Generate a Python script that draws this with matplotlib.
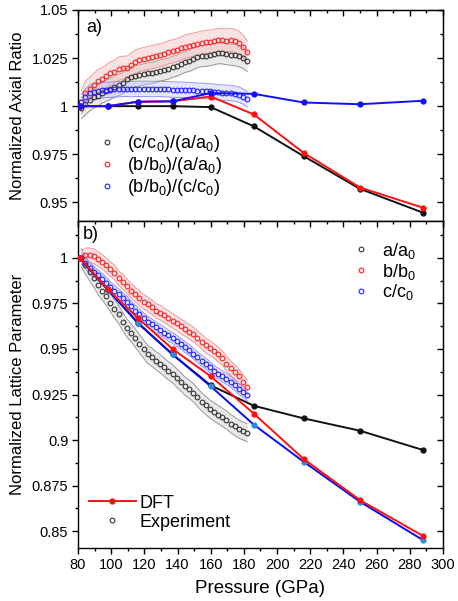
import matplotlib
matplotlib.use("Agg")
import matplotlib.pyplot as plt
import numpy as np
from matplotlib.ticker import MultipleLocator, FixedLocator
from matplotlib.lines import Line2D

plt.rcParams["font.family"] = ["Liberation Sans", "DejaVu Sans"]
plt.rcParams["mathtext.default"] = "regular"

# DFT points
dftP = [81, 98, 116, 137, 160, 186, 216, 250, 288]
dftCA = [1.0, 1.0, 1.0, 1.0, 0.9995, 0.9895, 0.974, 0.957, 0.9446]
dftBA = [1.0, 1.0, 1.0023, 1.0025, 1.005, 0.9957, 0.9757, 0.9577, 0.9472]
dftBC = [1.0, 1.0, 1.0023, 1.0025, 1.0068, 1.0064, 1.0019, 1.001, 1.0028]
dftA = [1.0, 0.9825, 0.9645, 0.947, 0.930, 0.9188, 0.9119, 0.9051, 0.8945]
dftB = [1.0, 0.9828, 0.967, 0.950, 0.935, 0.9145, 0.8896, 0.867, 0.8473]
dftC = [1.0, 0.9825, 0.9643, 0.947, 0.9295, 0.9084, 0.8881, 0.8661, 0.845]

# experiment
expP = [82, 84.5, 87, 89.5, 92, 94.5, 97, 99.5, 102, 104.5, 107, 109.5, 112, 114.5,
        117, 119.5, 122, 124.5, 127, 129.5, 132, 134.5, 137, 139.5, 142, 144.5, 147,
        149.5, 152, 154.5, 157, 159.5, 162, 164.5, 167, 169.5, 172, 174.5, 177, 179.5, 182]
expCA = [0.999, 1.001, 1.003, 1.0045, 1.0055, 1.007, 1.008, 1.009, 1.010, 1.011, 1.012,
         1.014, 1.015, 1.0155, 1.016, 1.0165, 1.017, 1.0172, 1.0178, 1.0185, 1.019, 1.0195,
         1.0205, 1.021, 1.022, 1.023, 1.0235, 1.0245, 1.0255, 1.026, 1.0262, 1.0265, 1.027,
         1.0275, 1.0275, 1.027, 1.0268, 1.0265, 1.026, 1.025, 1.0235]
expBA = [1.002, 1.007, 1.009, 1.011, 1.013, 1.014, 1.0155, 1.017, 1.018, 1.0195, 1.020,
         1.020, 1.0215, 1.023, 1.024, 1.0245, 1.025, 1.0255, 1.026, 1.0265, 1.027, 1.028,
         1.0285, 1.029, 1.030, 1.031, 1.0315, 1.032, 1.0325, 1.033, 1.0335, 1.0335, 1.034,
         1.0345, 1.0345, 1.034, 1.0345, 1.034, 1.033, 1.031, 1.028]
expBC = [1.002, 1.005, 1.007, 1.0075, 1.008, 1.0082, 1.0085, 1.0085, 1.0088, 1.0088, 1.009,
         1.009, 1.0088, 1.009, 1.009, 1.009, 1.009, 1.0088, 1.009, 1.009, 1.0088, 1.0088,
         1.0086, 1.0086, 1.0085, 1.0085, 1.0083, 1.0082, 1.008, 1.008, 1.0078, 1.0077, 1.0075,
         1.0072, 1.007, 1.007, 1.0068, 1.0065, 1.006, 1.005, 1.0035]
expA = [1.0, 0.996, 0.9925, 0.989, 0.985, 0.982, 0.979, 0.9755, 0.972, 0.969, 0.965, 0.9615,
        0.959, 0.956, 0.953, 0.950, 0.947, 0.9455, 0.9435, 0.942, 0.940, 0.938, 0.9365, 0.934,
        0.932, 0.9295, 0.928, 0.926, 0.9235, 0.921, 0.919, 0.917, 0.9155, 0.914, 0.9125, 0.911,
        0.909, 0.9075, 0.906, 0.905, 0.904]
expB = [1.0, 1.0015, 1.0015, 1.001, 0.9995, 0.998, 0.996, 0.994, 0.992, 0.989, 0.987, 0.9845,
        0.982, 0.980, 0.978, 0.976, 0.9745, 0.973, 0.971, 0.970, 0.9685, 0.967, 0.9655, 0.964,
        0.9625, 0.961, 0.9595, 0.958, 0.956, 0.954, 0.952, 0.9505, 0.949, 0.947, 0.945, 0.942,
        0.9395, 0.9375, 0.935, 0.932, 0.929]
expC = [1.0, 0.997, 0.9945, 0.9925, 0.9905, 0.9885, 0.9865, 0.984, 0.982, 0.980, 0.978, 0.976,
        0.9735, 0.971, 0.969, 0.967, 0.965, 0.9635, 0.962, 0.9605, 0.959, 0.9575, 0.956, 0.9545,
        0.953, 0.951, 0.9495, 0.9475, 0.9455, 0.9435, 0.942, 0.940, 0.938, 0.9365, 0.935, 0.9335,
        0.932, 0.930, 0.928, 0.9265, 0.9245]
# half widths of the shaded bands
errCA, errBA, errBC = 0.0055, 0.006, 0.004
errA, errB, errC = 0.005, 0.004, 0.003

topTicks = [0.95, 0.975, 1.0, 1.025, 1.05]
topTickLabels = ["0.95", "0.975", "1", "1.025", "1.05"]
botTicks = [0.85, 0.875, 0.9, 0.925, 0.95, 0.975, 1.0]
botTickLabels = ["0.85", "0.875", "0.9", "0.925", "0.95", "0.975", "1"]

fig = plt.figure(figsize=(4.58, 6.01), dpi=100)
ax1 = fig.add_axes([0.1703, 0.6323, 0.7969, 0.3511])
ax2 = fig.add_axes([0.1703, 0.0882, 0.7969, 0.5441])


def band(ax, p, v, err, face, edge):
    v = np.array(v)
    ax.fill_between(p, v - err, v + err, color=face, alpha=0.4, lw=0, zorder=1)
    ax.plot(p, v - err, color=edge, lw=0.6, zorder=1)
    ax.plot(p, v + err, color=edge, lw=0.6, zorder=1)


def circles(ax, p, v, col):
    ax.plot(p, v, ls="none", marker="o", ms=3.4, mfc="none", mec=col, mew=0.8, zorder=2)


def dft(ax, p, v, col, mcol=None):
    ax.plot(p, v, color=col, lw=1.4, marker="o", ms=3.5, mfc=mcol or col, mec=mcol or col, zorder=3)


# top panel
band(ax1, expP, expCA, errCA, "#c8c8c8", "#8a8a8a")
band(ax1, expP, expBA, errBA, "#f6b8b8", "#f08a8a")
band(ax1, expP, expBC, errBC, "#c0c0f6", "#8a8af0")
circles(ax1, expP, expCA, "#333333")
circles(ax1, expP, expBA, "#ff2020")
circles(ax1, expP, expBC, "#2020ff")
dft(ax1, dftP, dftCA, "#111111")
dft(ax1, dftP, dftBA, "#ff1010")
dft(ax1, dftP, dftBC, "#1010ff")

# bottom panel
band(ax2, expP, expA, errA, "#c8c8c8", "#8a8a8a")
band(ax2, expP, expB, errB, "#f6b8b8", "#f08a8a")
band(ax2, expP, expC, errC, "#c0c0f6", "#8a8af0")
circles(ax2, expP, expA, "#333333")
circles(ax2, expP, expB, "#ff2020")
circles(ax2, expP, expC, "#2020ff")
dft(ax2, dftP, dftA, "#111111")
dft(ax2, dftP, dftC, "#0a0aee", "#2a8ce0")
dft(ax2, dftP, dftB, "#ff1010")

for ax, lim, ticks, labels in [(ax1, (0.9403, 1.05), topTicks, topTickLabels),
                               (ax2, (0.8407, 1.0203), botTicks, botTickLabels)]:
    ax.set_xlim(80, 300)
    ax.set_ylim(*lim)
    ax.xaxis.set_major_locator(MultipleLocator(20))
    ax.xaxis.set_minor_locator(MultipleLocator(10))
    ax.yaxis.set_major_locator(FixedLocator(ticks))
    ax.yaxis.set_minor_locator(MultipleLocator(0.0125))
    ax.set_yticklabels(labels)
    ax.tick_params(which="both", direction="out", width=1, labelsize=10.5, pad=3)
    ax.tick_params(which="major", length=4)
    ax.tick_params(which="minor", length=2.5)
    for s in ax.spines.values():
        s.set_linewidth(1)
    sx = ax.secondary_xaxis("top")
    sy = ax.secondary_yaxis("right")
    sx.xaxis.set_major_locator(MultipleLocator(20))
    sx.xaxis.set_minor_locator(MultipleLocator(10))
    sy.yaxis.set_major_locator(FixedLocator(ticks))
    sy.yaxis.set_minor_locator(MultipleLocator(0.0125))
    for sec in (sx, sy):
        sec.tick_params(which="both", direction="in", labelsize=0, width=1)
        sec.tick_params(which="major", length=4)
        sec.tick_params(which="minor", length=2.5)
    sx.set_xticklabels([])
    sy.set_yticklabels([])

ax1.set_xticklabels([])
ax1.set_ylabel("Normalized Axial Ratio", fontsize=12)
ax2.set_ylabel("Normalized Lattice Parameter", fontsize=12)
ax2.set_xlabel("Pressure (GPa)", fontsize=13.5, labelpad=6)
ax1.yaxis.set_label_coords(-0.145, 0.5)
ax2.yaxis.set_label_coords(-0.145, 0.5)
ax1.text(0.022, 0.955, "a)", transform=ax1.transAxes, fontsize=13, va="top")
ax2.text(0.012, 0.985, "b)", transform=ax2.transAxes, fontsize=13, va="top")


def mk(col):
    return Line2D([], [], ls="none", marker="o", ms=3.4, mfc="none", mec=col, mew=0.8)


leg1 = ax1.legend([mk("#333333"), mk("#ff2020"), mk("#2020ff")],
                  ["(c/c$_0$)/(a/a$_0$)", "(b/b$_0$)/(a/a$_0$)", "(b/b$_0$)/(c/c$_0$)"],
                  loc="upper left", bbox_to_anchor=(0.03, 0.45), frameon=False, fontsize=13,
                  handlelength=1.2, handletextpad=0.5, labelspacing=0.05, borderaxespad=0)
leg2 = ax2.legend([mk("#333333"), mk("#ff2020"), mk("#2020ff")],
                  ["a/a$_0$", "b/b$_0$", "c/c$_0$"],
                  loc="upper left", bbox_to_anchor=(0.725, 0.962), frameon=False, fontsize=13,
                  handlelength=1.2, handletextpad=0.6, labelspacing=0.05, borderaxespad=0)
ax2.add_artist(leg2)
dftHandle = Line2D([], [], color="#ff1010", lw=1.4, marker="o", ms=3.5)
ax2.legend([dftHandle, mk("#333333")], ["DFT", "Experiment"],
           loc="upper left", bbox_to_anchor=(0.01, 0.185), frameon=False, fontsize=13,
           handlelength=2.6, handletextpad=0.2, labelspacing=0.1, borderaxespad=0)

fig.savefig("out.png", dpi=100)
